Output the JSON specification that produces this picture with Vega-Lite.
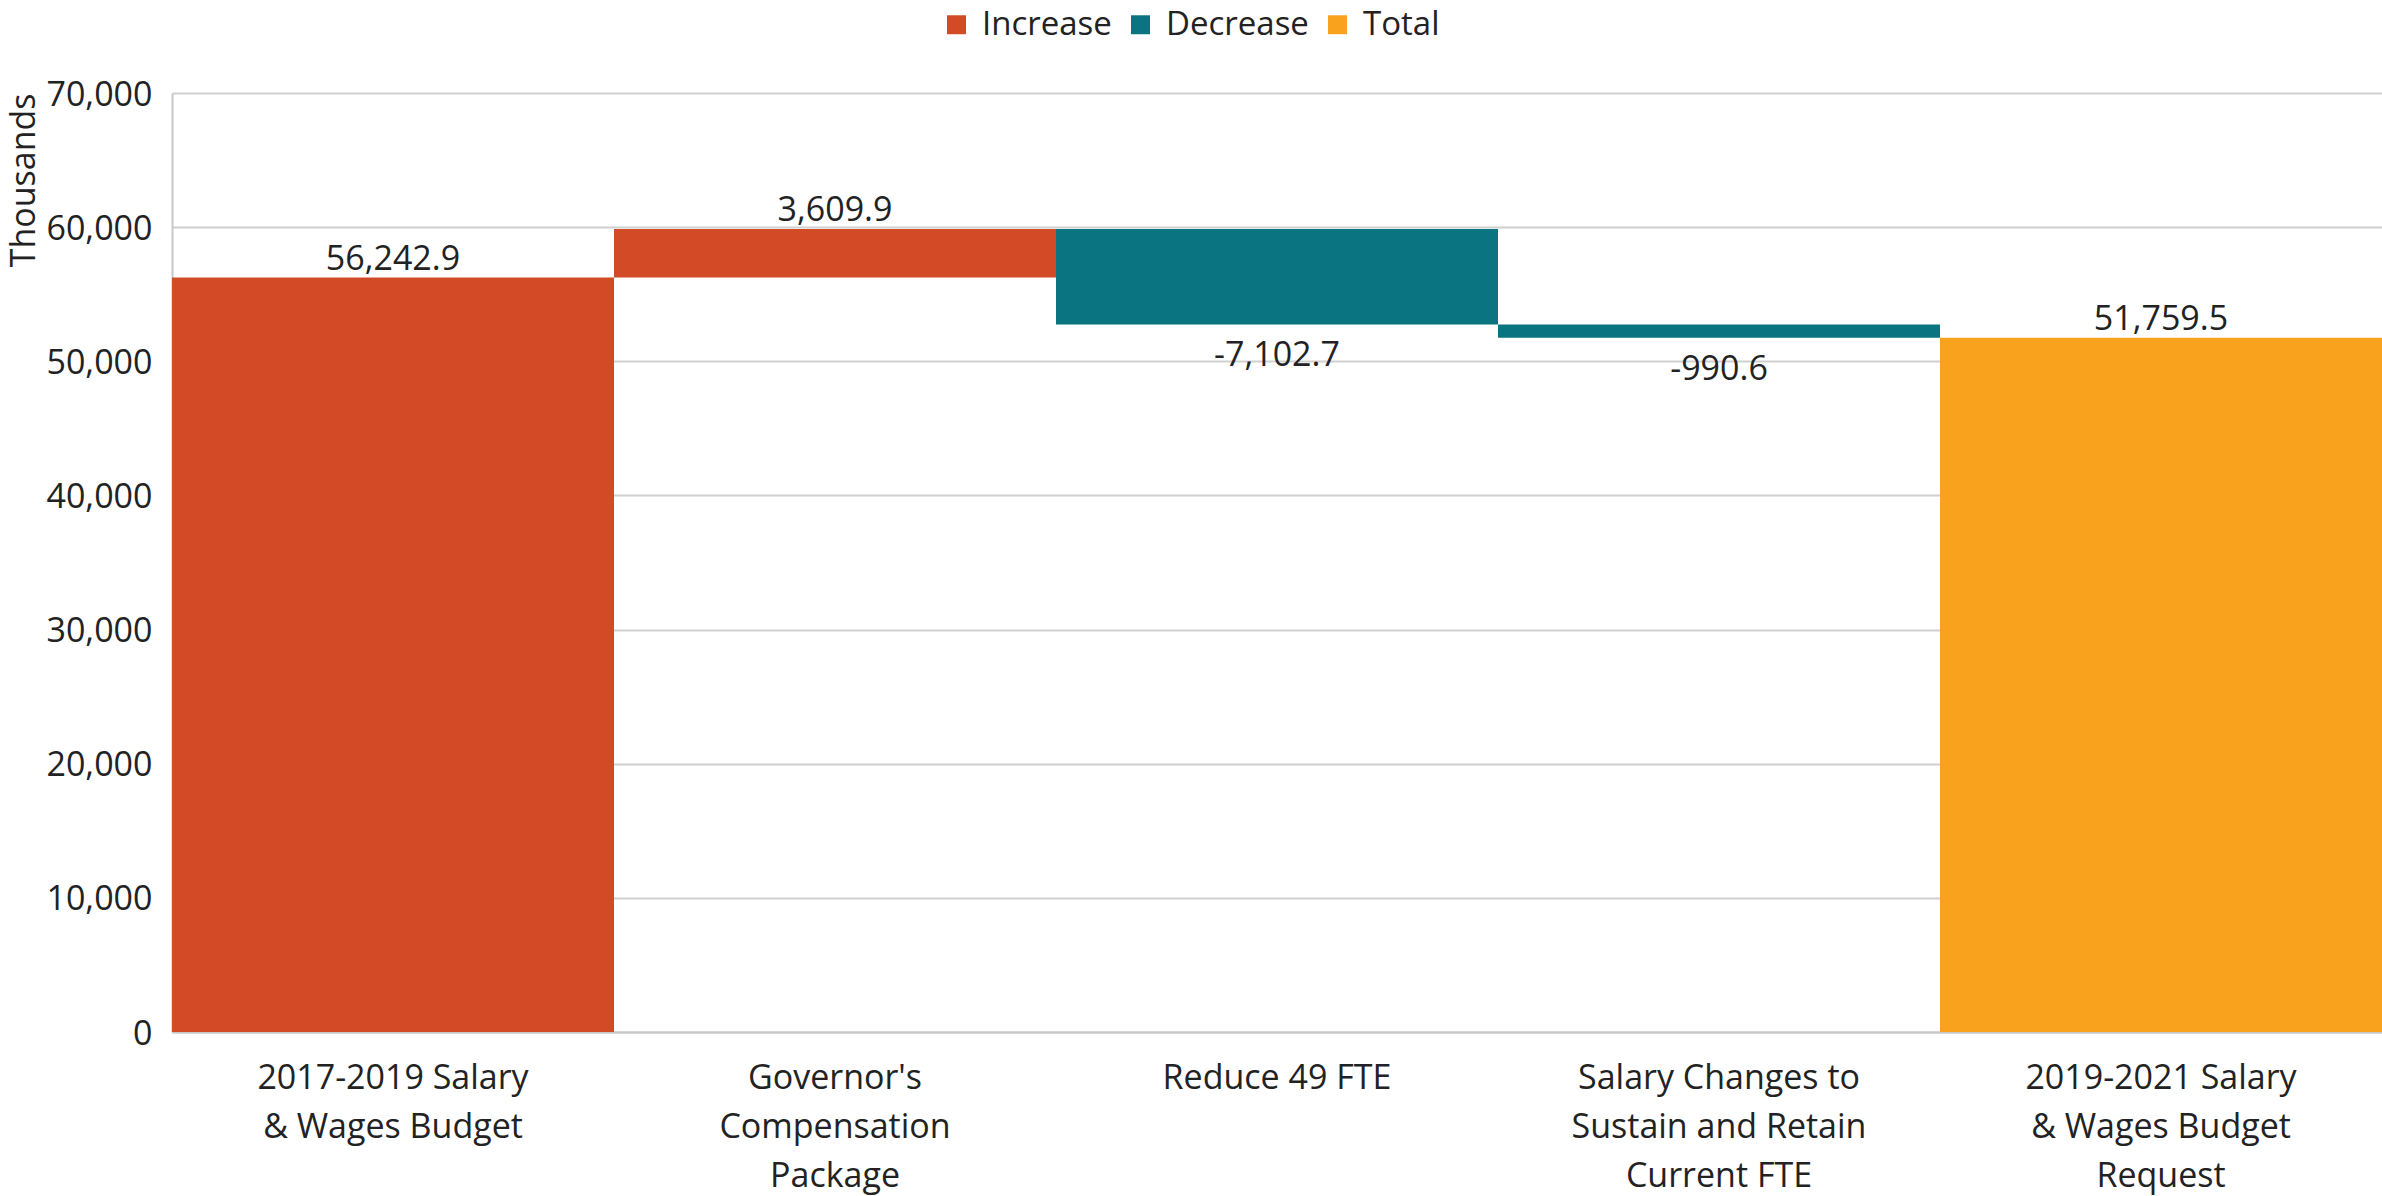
{
  "$schema": "https://vega.github.io/schema/vega-lite/v6.json",
  "autosize": {"type": "none"},
  "width": 2210,
  "height": 939,
  "padding": {"left": 172, "top": 93, "right": 0, "bottom": 164},
  "background": "white",
  "data": {
    "values": [
      {"step": "2017-2019 Salary & Wages Budget", "start": 0, "end": 56242.9, "amount": 56242.9, "type": "Increase"},
      {"step": "Governor's Compensation Package", "start": 56242.9, "end": 59852.8, "amount": 3609.9, "type": "Increase"},
      {"step": "Reduce 49 FTE", "start": 59852.8, "end": 52750.1, "amount": -7102.7, "type": "Decrease"},
      {"step": "Salary Changes to Sustain and Retain Current FTE", "start": 52750.1, "end": 51759.5, "amount": -990.6, "type": "Decrease"},
      {"step": "2019-2021 Salary & Wages Budget Request", "start": 0, "end": 51759.5, "amount": 51759.5, "type": "Total"}
    ]
  },
  "encoding": {
    "x": {
      "field": "step",
      "type": "nominal",
      "sort": null,
      "scale": {"paddingInner": 0, "paddingOuter": 0},
      "axis": {
        "title": null,
        "labelAngle": 0,
        "ticks": false,
        "tickSize": 0,
        "labelPadding": 29,
        "labelLimit": 0,
        "labelLineHeight": 49,
        "labelExpr": "datum.value == '2017-2019 Salary & Wages Budget' ? ['2017-2019 Salary', '& Wages Budget'] : datum.value == 'Reduce 49 FTE' ? 'Reduce 49 FTE' : datum.value == '2019-2021 Salary & Wages Budget Request' ? ['2019-2021 Salary', '& Wages Budget', 'Request'] : datum.value == \"Governor's Compensation Package\" ? [\"Governor's\", 'Compensation', 'Package'] : ['Salary Changes to', 'Sustain and Retain', 'Current FTE']"
      }
    }
  },
  "layer": [
    {
      "mark": {"type": "bar", "strokeWidth": 0},
      "encoding": {
        "y": {
          "field": "start",
          "type": "quantitative",
          "scale": {"domain": [0, 70000], "nice": false},
          "axis": {
            "title": "Thousands",
            "titleX": -148,
            "titleY": 0,
            "titleAngle": -90,
            "titleAlign": "right",
            "titleBaseline": "middle",
            "values": [0, 10000, 20000, 30000, 40000, 50000, 60000, 70000],
            "format": ",d",
            "ticks": false,
            "tickSize": 0,
            "labelPadding": 20,
            "labelOffset": 2,
            "grid": true
          }
        },
        "y2": {"field": "end"},
        "color": {
          "field": "type",
          "type": "nominal",
          "scale": {"domain": ["Increase", "Decrease", "Total"], "range": ["#D34A27", "#0A7480", "#F8A21E"]},
          "legend": {
            "title": null,
            "orient": "none",
            "direction": "horizontal",
            "legendX": 768,
            "legendY": -85,
            "symbolType": "square",
            "symbolSize": 360,
            "symbolStrokeWidth": 0,
            "labelOffset": 9,
            "columnPadding": 12,
            "padding": 0
          }
        }
      }
    },
    {
      "transform": [{"filter": "datum.type != 'Decrease'"}],
      "mark": {"type": "text", "baseline": "alphabetic", "dy": -8, "fontSize": 34, "font": "Open Sans", "color": "#222222"},
      "encoding": {
        "y": {"field": "end", "type": "quantitative"},
        "text": {"field": "amount", "type": "quantitative", "format": ",.1f"}
      }
    },
    {
      "transform": [{"filter": "datum.type == 'Decrease'"}],
      "mark": {"type": "text", "baseline": "alphabetic", "dy": 42, "fontSize": 34, "font": "Open Sans", "color": "#222222"},
      "encoding": {
        "y": {"field": "end", "type": "quantitative"},
        "text": {"field": "amount", "type": "quantitative", "format": ",.1f"}
      }
    }
  ],
  "config": {
    "locale": {"number": {"decimal": ".", "thousands": ",", "grouping": [3], "currency": ["$", ""], "minus": "-"}},
    "view": {"stroke": null},
    "font": "Open Sans",
    "axis": {
      "labelFont": "Open Sans",
      "labelFontSize": 34,
      "labelColor": "#222222",
      "titleFont": "Open Sans",
      "titleFontSize": 34,
      "titleFontWeight": "normal",
      "titleColor": "#222222",
      "domainColor": "#C8C8C8",
      "domainWidth": 2,
      "gridColor": "#D0D0D0",
      "gridWidth": 2
    },
    "legend": {
      "labelFont": "Open Sans",
      "labelFontSize": 33,
      "labelColor": "#222222"
    }
  }
}
